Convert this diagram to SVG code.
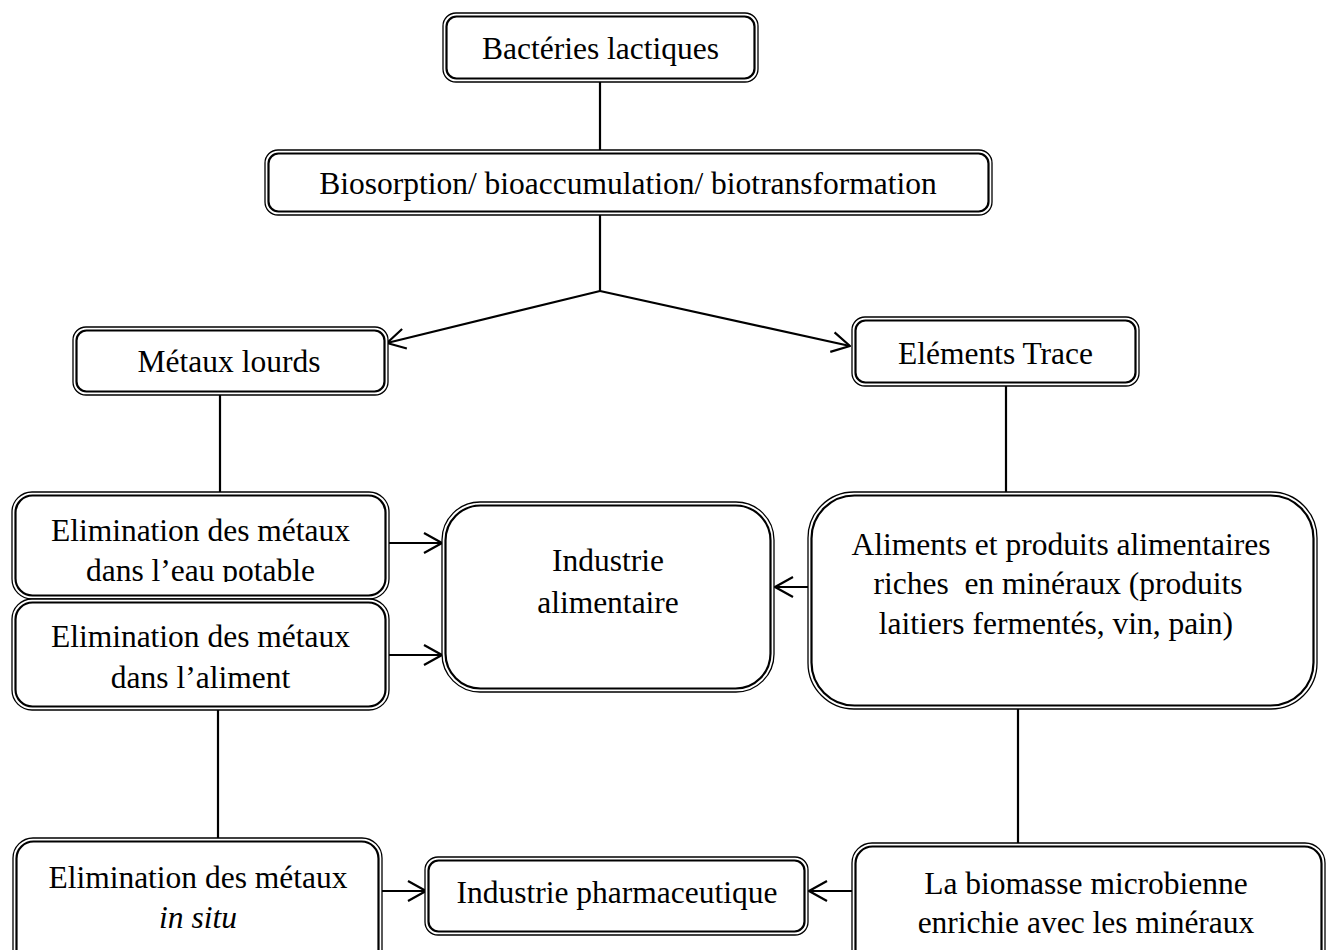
<svg xmlns="http://www.w3.org/2000/svg" width="1332" height="950" viewBox="0 0 1332 950">
<style>
.o{fill:#fff;stroke:#000;stroke-width:1.3}
.i{fill:none;stroke:#000;stroke-width:2.2}
.t{font-family:"Liberation Serif","Times New Roman",serif;font-size:31.5px;fill:#000;text-anchor:middle}
.c line{stroke:#000;stroke-width:2.2;fill:none}
</style>
<defs>
<marker id="ah" markerUnits="userSpaceOnUse" markerWidth="24" markerHeight="24" viewBox="-2 -2 24 24" refX="18" refY="10" orient="auto" overflow="visible">
<path d="M0,0 L18,10 L0,20" fill="none" stroke="#000" stroke-width="2.2" stroke-linejoin="round"/>
</marker>
<clipPath id="clipEau"><rect x="0" y="480" width="460" height="102"/></clipPath>
</defs>
<rect width="1332" height="950" fill="#fff"/>

<g id="connectors" class="c">
<line x1="600" y1="82" x2="600" y2="150"/>
<line x1="600" y1="215" x2="600" y2="291"/>
<line x1="600" y1="291" x2="387" y2="343" marker-end="url(#ah)"/>
<line x1="600" y1="291" x2="850" y2="346" marker-end="url(#ah)"/>
<line x1="220" y1="395" x2="220" y2="492"/>
<line x1="1006" y1="386" x2="1006" y2="492"/>
<line x1="389" y1="543" x2="442" y2="543" marker-end="url(#ah)"/>
<line x1="389" y1="655" x2="442" y2="655" marker-end="url(#ah)"/>
<line x1="808" y1="587" x2="775" y2="587" marker-end="url(#ah)"/>
<line x1="218" y1="710" x2="218" y2="838"/>
<line x1="1018" y1="709" x2="1018" y2="843"/>
<line x1="382" y1="891" x2="426" y2="891" marker-end="url(#ah)"/>
<line x1="852" y1="891" x2="809" y2="891" marker-end="url(#ah)"/>
</g>

<g id="n-bacteries">
<rect class="o" x="443" y="13" width="315" height="69" rx="13"/>
<rect class="i" x="446.5" y="16.5" width="308" height="62" rx="10"/>
<text class="t" x="600.5" y="59">Bactéries lactiques</text>
</g>

<g id="n-biosorption">
<rect class="o" x="265" y="150" width="727" height="65" rx="13"/>
<rect class="i" x="268.5" y="153.5" width="720" height="58" rx="10"/>
<text class="t" x="628" y="194">Biosorption/ bioaccumulation/ biotransformation</text>
</g>

<g id="n-metaux">
<rect class="o" x="73" y="327" width="315" height="68" rx="13"/>
<rect class="i" x="76.5" y="330.5" width="308" height="61" rx="10"/>
<text class="t" x="229" y="372">Métaux lourds</text>
</g>

<g id="n-elements">
<rect class="o" x="852" y="317" width="287" height="69" rx="13"/>
<rect class="i" x="855.5" y="320.5" width="280" height="62" rx="10"/>
<text class="t" x="995.5" y="364">Eléments Trace</text>
</g>

<g id="n-elim-eau">
<rect class="o" x="12" y="492" width="377" height="107" rx="20"/>
<rect class="i" x="15.5" y="495.5" width="370" height="100" rx="17"/>
<text class="t" x="200.5" y="541">Elimination des métaux</text>
<text class="t" x="200.5" y="581" clip-path="url(#clipEau)">dans l’eau potable</text>
</g>

<g id="n-elim-aliment">
<rect class="o" x="12" y="599" width="377" height="111" rx="20"/>
<rect class="i" x="15.5" y="602.5" width="370" height="104" rx="17"/>
<text class="t" x="200.5" y="647">Elimination des métaux</text>
<text class="t" x="200.5" y="688">dans l’aliment</text>
</g>

<g id="n-ind-alim">
<rect class="o" x="442" y="502" width="332" height="190" rx="38"/>
<rect class="i" x="445.5" y="505.5" width="325" height="183" rx="35"/>
<text class="t" x="608" y="571">Industrie</text>
<text class="t" x="608" y="613">alimentaire</text>
</g>

<g id="n-aliments">
<rect class="o" x="808" y="492" width="509" height="217" rx="46"/>
<rect class="i" x="811.5" y="495.5" width="502" height="210" rx="43"/>
<text class="t" x="1061" y="555">Aliments et produits alimentaires</text>
<text class="t" x="1058" y="594" xml:space="preserve">riches  en minéraux (produits</text>
<text class="t" x="1056" y="634">laitiers fermentés, vin, pain)</text>
</g>

<g id="n-elim-insitu">
<rect class="o" x="13" y="838" width="369" height="140" rx="20"/>
<rect class="i" x="16.5" y="841.5" width="362" height="133" rx="17"/>
<text class="t" x="198" y="888">Elimination des métaux</text>
<text class="t" x="198" y="928" font-style="italic">in situ</text>
</g>

<g id="n-pharma">
<rect class="o" x="425" y="857" width="383" height="78" rx="13"/>
<rect class="i" x="428.5" y="860.5" width="376" height="71" rx="10"/>
<text class="t" x="617" y="903">Industrie pharmaceutique</text>
</g>

<g id="n-biomasse">
<rect class="o" x="852" y="843" width="473" height="140" rx="20"/>
<rect class="i" x="855.5" y="846.5" width="466" height="133" rx="17"/>
<text class="t" x="1086" y="894">La biomasse microbienne</text>
<text class="t" x="1086" y="933">enrichie avec les minéraux</text>
</g>
</svg>
